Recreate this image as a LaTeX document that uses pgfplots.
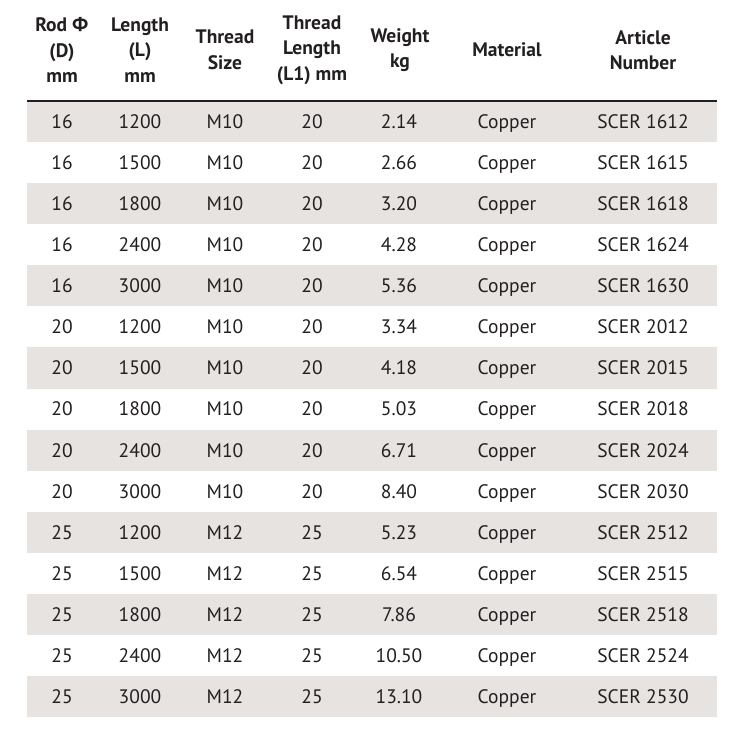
\documentclass[border=0pt]{standalone}
\usepackage{pgfplots}
\usepackage{pgfplotstable}
\pgfplotsset{compat=1.18}
\usepackage{fontspec}
\setmainfont{PT Sans}
\newfontfamily\greekfont{Open Sans}
\definecolor{shade}{RGB}{231,227,225}
\definecolor{ink}{RGB}{35,31,32}
\pgfplotstableread[col sep=comma]{
D,L,T,TL,W,Mat,Art
16,1200,M10,20,2.14,Copper,SCER 1612
16,1500,M10,20,2.66,Copper,SCER 1615
16,1800,M10,20,3.20,Copper,SCER 1618
16,2400,M10,20,4.28,Copper,SCER 1624
16,3000,M10,20,5.36,Copper,SCER 1630
20,1200,M10,20,3.34,Copper,SCER 2012
20,1500,M10,20,4.18,Copper,SCER 2015
20,1800,M10,20,5.03,Copper,SCER 2018
20,2400,M10,20,6.71,Copper,SCER 2024
20,3000,M10,20,8.40,Copper,SCER 2030
25,1200,M12,25,5.23,Copper,SCER 2512
25,1500,M12,25,6.54,Copper,SCER 2515
25,1800,M12,25,7.86,Copper,SCER 2518
25,2400,M12,25,10.50,Copper,SCER 2524
25,3000,M12,25,13.10,Copper,SCER 2530
}\datatable
\begin{document}
\begin{tikzpicture}
\begin{axis}[
  width=738pt, height=728pt, scale only axis,
  xmin=0, xmax=738, ymin=0, ymax=728, y dir=reverse,
  hide axis, clip=false,
  every axis plot/.append style={forget plot},
  celltext/.style={only marks, mark=*, mark options={opacity=0, draw opacity=0, fill opacity=0},
    point meta=explicit symbolic, nodes near coords,
    nodes near coords style={anchor=center, font=\fontsize{19.5}{24}\selectfont, text=ink, inner sep=0pt,
      text height=14pt, text depth=0pt, opacity=1, text opacity=1}},
]
\addplot[draw=none] coordinates {(0,0) (738,728)};
% shaded rows
\addplot[fill=shade, draw=none] coordinates {(27,101.0) (717,101.0) (717,142.1) (27,142.1)};
\addplot[fill=shade, draw=none] coordinates {(27,183.1) (717,183.1) (717,224.2) (27,224.2)};
\addplot[fill=shade, draw=none] coordinates {(27,265.3) (717,265.3) (717,306.4) (27,306.4)};
\addplot[fill=shade, draw=none] coordinates {(27,347.4) (717,347.4) (717,388.5) (27,388.5)};
\addplot[fill=shade, draw=none] coordinates {(27,429.6) (717,429.6) (717,470.6) (27,470.6)};
\addplot[fill=shade, draw=none] coordinates {(27,511.7) (717,511.7) (717,552.8) (27,552.8)};
\addplot[fill=shade, draw=none] coordinates {(27,593.8) (717,593.8) (717,634.9) (27,634.9)};
\addplot[fill=shade, draw=none] coordinates {(27,676.0) (717,676.0) (717,717.0) (27,717.0)};
% header rule
\addplot[draw=ink, line width=2pt] coordinates {(27,101) (717,101)};
% cells
\addplot[celltext] table[x expr=62,  y expr=121.5+41.07*\coordindex, meta=D]   {\datatable};
\addplot[celltext] table[x expr=140, y expr=121.5+41.07*\coordindex, meta=L]   {\datatable};
\addplot[celltext] table[x expr=225, y expr=121.5+41.07*\coordindex, meta=T]   {\datatable};
\addplot[celltext] table[x expr=312, y expr=121.5+41.07*\coordindex, meta=TL]  {\datatable};
\addplot[celltext] table[x expr=399, y expr=121.5+41.07*\coordindex, meta=W]   {\datatable};
\addplot[celltext] table[x expr=507, y expr=121.5+41.07*\coordindex, meta=Mat] {\datatable};
\addplot[celltext] table[x expr=643, y expr=121.5+41.07*\coordindex, meta=Art] {\datatable};
% header
\begin{scope}[every node/.style={align=center, text=ink, inner sep=0pt, font=\bfseries\fontsize{19.5}{25.5}\selectfont}]
\node at (axis cs:62,50)  {Rod {\greekfont Φ}\\(D)\\mm};
\node at (axis cs:140,50) {Length\\(L)\\mm};
\node at (axis cs:225,50) {Thread\\Size};
\node at (axis cs:312,50) {Thread\\Length\\(L1) mm};
\node at (axis cs:400,50) {Weight\\kg};
\node at (axis cs:507,50) {Material};
\node at (axis cs:643,50) {Article\\Number};
\end{scope}
\end{axis}
\end{tikzpicture}
\end{document}
